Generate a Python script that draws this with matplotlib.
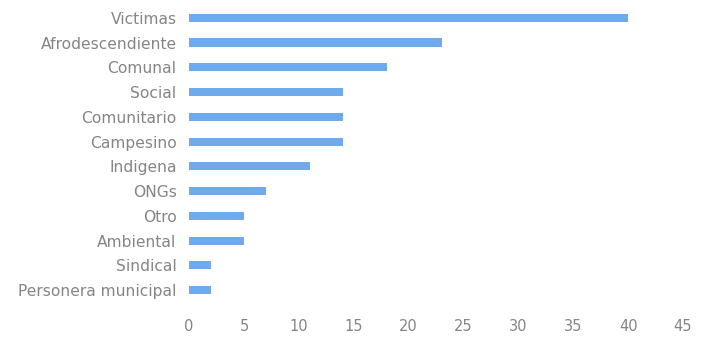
import matplotlib.pyplot as plt

# datos del grafico
categorias = ["Victimas", "Afrodescendiente", "Comunal", "Social", "Comunitario",
              "Campesino", "Indigena", "ONGs", "Otro", "Ambiental", "Sindical",
              "Personera municipal"]
valores = [40, 23, 18, 14, 14, 14, 11, 7, 5, 5, 2, 2]
ticks_x = [0, 5, 10, 15, 20, 25, 30, 35, 40, 45]
# --------------------------------------------------------------

plt.rcParams["font.family"] = ["DejaVu Sans"]

fig = plt.figure(figsize=(7.03, 3.41), dpi=100)
ax = fig.add_axes([0.269, 0.113, 0.7026, 0.871])

pos = list(range(len(categorias)))
ax.barh(pos, valores, height=0.33, color="#6eaaec")

ax.set_xlim(0, 45)
ax.set_ylim(len(categorias) - 0.5, -0.5)
ax.set_yticks(pos)
ax.set_yticklabels(categorias)
ax.set_xticks(ticks_x)

# estilo de las etiquetas
ax.tick_params(axis="y", length=0, pad=9, labelsize=11.2, labelcolor="#858585")
ax.tick_params(axis="x", length=0, pad=12, labelsize=10.5, labelcolor="#858585")
for s in ax.spines.values():
    s.set_visible(False)

fig.savefig("out.png", dpi=100)
